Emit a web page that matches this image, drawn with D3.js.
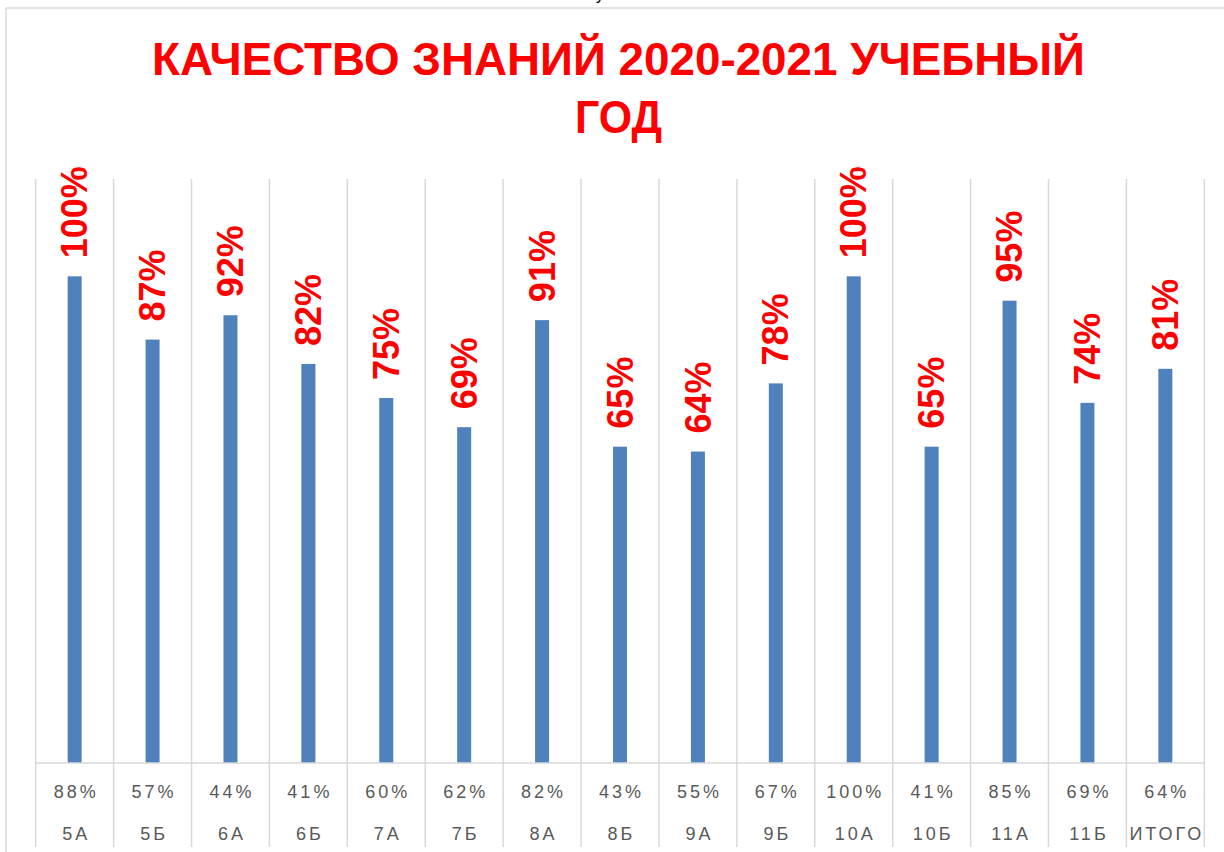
<!DOCTYPE html>
<html>
<head>
<meta charset="utf-8">
<script src="https://cdn.jsdelivr.net/npm/d3@7"></script>
<style>
  html, body { margin: 0; padding: 0; background: #fff; }
  svg { display: block; font-family: "Liberation Sans", Arial, sans-serif; }
</style>
</head>
<body>
<svg id="chart" width="1224" height="852"></svg>
<script>
// data
const classes = ['5А','5Б','6А','6Б','7А','7Б','8А','8Б','9А','9Б','10А','10Б','11А','11Б','ИТОГО'];
const quality2021 = [100, 87, 92, 82, 75, 69, 91, 65, 64, 78, 100, 65, 95, 74, 81];
const quality2020 = ['88%','57%','44%','41%','60%','62%','82%','43%','55%','67%','100%','41%','85%','69%','64%'];
const titleLines = ['КАЧЕСТВО ЗНАНИЙ 2020-2021 УЧЕБНЫЙ', 'ГОД'];

const svg = d3.select('#chart');
const W = 1224, H = 852;
const plotLeft = 35.7, plotRight = 1204.3, plotTop = 179, axisY = 763, tableBottom = 847;
const gridColor = '#d9d9d9';

// scrap of the document text above the chart (cut off in the source too)
svg.append('text').attr('x', 596).attr('y', 0).attr('font-size', 16).attr('fill', '#000').text('у');

// chart frame (only top and left edges are in view)
svg.append('line').attr('x1', 6).attr('x2', W).attr('y1', 8).attr('y2', 8).attr('stroke', gridColor).attr('stroke-width', 1.5);
svg.append('line').attr('x1', 6).attr('x2', 6).attr('y1', 8).attr('y2', H).attr('stroke', gridColor).attr('stroke-width', 1.5);

// title
const titleSizes = [933, 87];
const titleY = [75, 133];
titleLines.forEach((t, i) => {
    svg.append('text')
        .attr('x', 618.5).attr('y', titleY[i])
        .attr('text-anchor', 'middle')
        .attr('font-size', 46).attr('font-weight', 'bold')
        .attr('fill', '#ff0000')
        .attr('textLength', titleSizes[i]).attr('lengthAdjust', 'spacingAndGlyphs')
        .text(t);
});

const x = d3.scaleBand().domain(classes).range([plotLeft, plotRight]).paddingInner(0).paddingOuter(0);
const y = d3.scaleLinear().domain([0, 1.2]).range([axisY, plotTop]);
const barW = 14;

// vertical gridlines at category borders, running down through the table
const edges = classes.map(c => x(c)).concat([plotRight]);
svg.append('g').selectAll('line').data(edges).enter().append('line')
    .attr('x1', d => d).attr('x2', d => d)
    .attr('y1', plotTop).attr('y2', tableBottom)
    .attr('stroke', gridColor).attr('stroke-width', 1.5);

// bars
const rows = classes.map((c, i) => ({ c, v: quality2021[i] / 100 }));
svg.append('g').selectAll('rect').data(rows).enter().append('rect')
    .attr('x', d => x(d.c) + x.bandwidth() / 2 - barW / 2)
    .attr('y', d => y(d.v))
    .attr('width', barW)
    .attr('height', d => axisY - y(d.v))
    .attr('fill', '#4f81bd');

// horizontal axis line
svg.append('line').attr('x1', plotLeft).attr('x2', plotRight).attr('y1', axisY).attr('y2', axisY)
    .attr('stroke', gridColor).attr('stroke-width', 1.5);

// value labels, rotated
svg.append('g').selectAll('text').data(rows).enter().append('text')
    .attr('transform', d => `translate(${x(d.c) + x.bandwidth() / 2},${y(d.v) - 18}) rotate(-90)`)
    .attr('dy', '0.35em')
    .attr('font-size', 36).attr('font-weight', 'bold')
    .attr('fill', '#ff0000')
    .text(d => Math.round(d.v * 100) + '%');

// two-row category table under the axis
function tableRow(yPos, fmt) {
    const g = svg.append('g').attr('transform', `translate(0,${yPos})`)
        .call(d3.axisBottom(x).tickSize(0).tickPadding(0).tickFormat(fmt));
    g.select('.domain').remove();
    g.selectAll('text')
        .attr('y', 0).attr('dy', 0).attr('dx', 1.5)
        .attr('font-size', 18)
        .attr('font-family', '"Liberation Sans", Arial, sans-serif')
        .attr('letter-spacing', '3px')
        .attr('fill', '#595959');
}
tableRow(798, (c, i) => quality2020[i]);
tableRow(840, c => c);
</script>
</body>
</html>
